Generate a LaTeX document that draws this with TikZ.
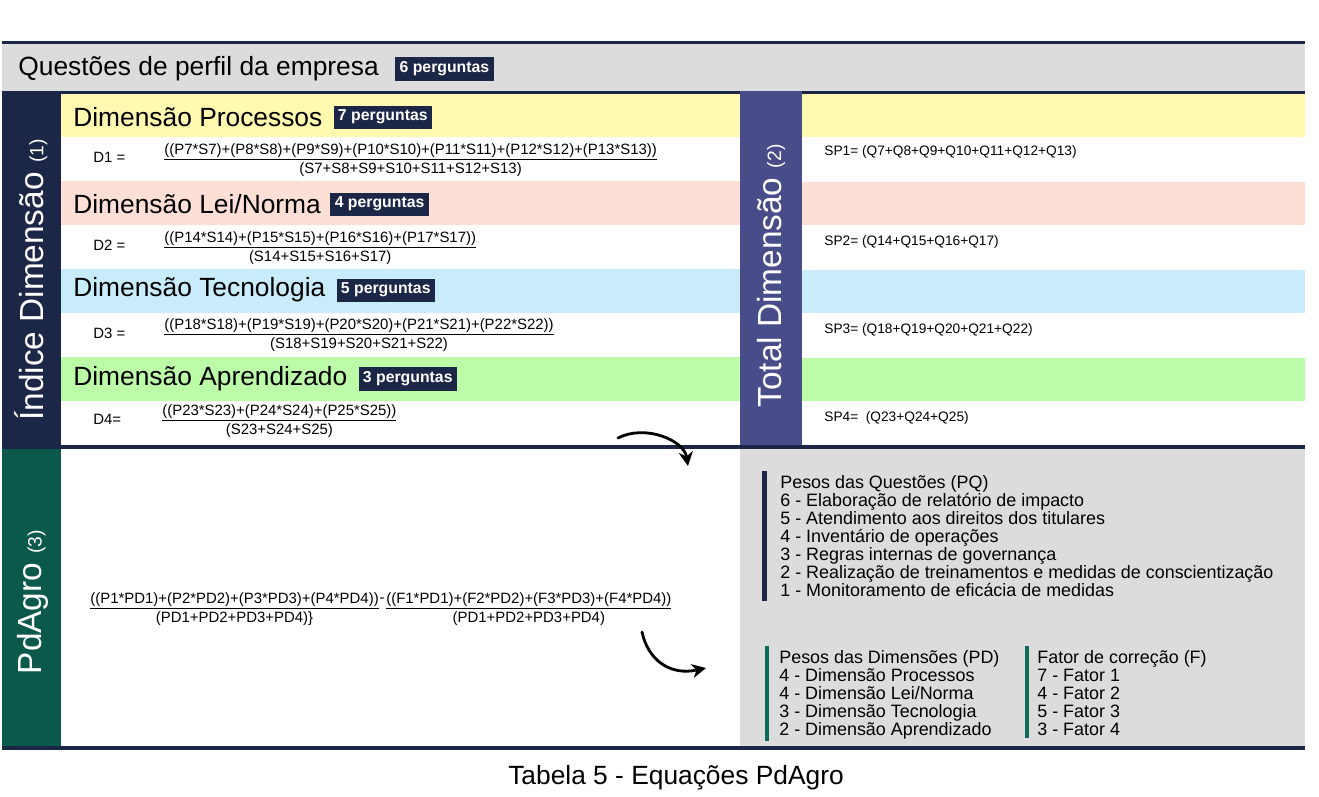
\documentclass[tikz,border=0pt]{standalone}
\usepackage{fontspec}
\setmainfont{Liberation Sans}
\usepackage{xcolor}
\usetikzlibrary{arrows.meta,positioning}
\definecolor{navy}{HTML}{1C2647}
\definecolor{hdrgray}{HTML}{DCDCDC}
\definecolor{dimyellow}{HTML}{FFFAB0}
\definecolor{dimsalmon}{HTML}{FDDFD5}
\definecolor{dimblue}{HTML}{C8ECFA}
\definecolor{dimgreen}{HTML}{BCFCA8}
\definecolor{totalblue}{HTML}{484C88}
\definecolor{pdgreen}{HTML}{0B594A}
\definecolor{legendgreen}{HTML}{0E6B57}

\begin{document}
\begin{tikzpicture}[
    x=0.02cm, y=-0.02cm,
    title/.style={anchor=west, inner sep=0pt, font=\fontsize{15}{18}\selectfont},
    badge/.style={fill=navy, text=white, inner sep=2.5pt, font=\bfseries\fontsize{9}{10}\selectfont},
    dlabel/.style={anchor=west, inner sep=0pt, font=\fontsize{8.5}{10}\selectfont},
    frac/.style={anchor=west, align=center, inner sep=0pt, font=\fontsize{8.5}{9.7}\selectfont},
    sptext/.style={anchor=west, inner sep=0pt, font=\fontsize{7.8}{9}\selectfont},
    sidebar/.style={rotate=90, text=white, inner sep=0pt, font=\fontsize{19}{21}\selectfont},
    legend/.style={anchor=north west, align=left, inner sep=0pt, font=\fontsize{10.2}{10.24}\selectfont},
    curvy/.style={-{Stealth[length=8pt, width=8pt, inset=2.5pt]}, line width=1.6pt, line cap=round}
]
\useasboundingbox (0,0) rectangle (1319,796);

\fill[navy] (2,41) rectangle (1305,44);
\fill[hdrgray] (2,44) rectangle (1305,91);
\foreach \yy/\cc in {93/dimyellow, 181/dimsalmon, 269/dimblue, 357/dimgreen} {
    \fill[\cc] (61,\yy) rectangle (740,\yy+44);
    \fill[\cc] (802,\yy+1) rectangle (1305,\yy+44);
}
\fill[navy] (2,91) rectangle (1305,94);
\fill[navy] (2,91) rectangle (61,447);
\fill[totalblue] (740,91) rectangle (802,445);
\fill[navy] (2,445) rectangle (1305,449);
\fill[pdgreen] (2,449) rectangle (61,750);
\fill[hdrgray] (740,449) rectangle (1305,746);
\fill[navy] (2,746) rectangle (1305,750);

\node[title] (qperfil) at (18,69) {Questões de perfil da empresa};
\node[badge, right=9pt of qperfil] (qbadge) {6 perguntas};

\node[title] (dproc) at (73,117) {Dimensão Processos};
\node[badge, right=6pt of dproc] (procbadge) {7 perguntas};
\node[title] (dlei) at (73,204) {Dimensão Lei/Norma};
\node[badge, right=5pt of dlei] (leibadge) {4 perguntas};
\node[title] (dtec) at (73,290) {Dimensão Tecnologia};
\node[badge, right=6pt of dtec] (tecbadge) {5 perguntas};
\node[title] (dapr) at (73,379) {Dimensão Aprendizado};
\node[badge, right=6pt of dapr] (aprbadge) {3 perguntas};

\node[dlabel] (d1) at (93,157) {D1 =};
\node[frac] (d1f) at (164,160) {\underline{((P7*S7)+(P8*S8)+(P9*S9)+(P10*S10)+(P11*S11)+(P12*S12)+(P13*S13))}\\(S7+S8+S9+S10+S11+S12+S13)};
\node[dlabel] (d2) at (93,245) {D2 =};
\node[frac] (d2f) at (164,248) {\underline{((P14*S14)+(P15*S15)+(P16*S16)+(P17*S17))}\\(S14+S15+S16+S17)};
\node[dlabel] (d3) at (93,333) {D3 =};
\node[frac] (d3f) at (164,335) {\underline{((P18*S18)+(P19*S19)+(P20*S20)+(P21*S21)+(P22*S22))}\\(S18+S19+S20+S21+S22)};
\node[dlabel] (d4) at (93,419) {D4=};
\node[frac] (d4f) at (162,421) {\underline{((P23*S23)+(P24*S24)+(P25*S25))}\\(S23+S24+S25)};

\node[sptext] (sp1) at (824,152) {SP1= (Q7+Q8+Q9+Q10+Q11+Q12+Q13)};
\node[sptext] (sp2) at (824,242) {SP2= (Q14+Q15+Q16+Q17)};
\node[sptext] (sp3) at (824,330) {SP3= (Q18+Q19+Q20+Q21+Q22)};
\node[sptext] (sp4) at (824,418) {SP4=\ \ (Q23+Q24+Q25)};

\node[sidebar] (indice) at (31,280) {Índice Dimensão {\fontsize{11}{12}\selectfont (1)}};
\node[sidebar] (totaldim) at (771,276) {Total Dimensão {\fontsize{11}{12}\selectfont (2)}};
\node[sidebar] (pdagro) at (33,602) {PdAgro {\fontsize{11}{12}\selectfont (3)}};

\node[frac] (pdleft) at (90,609) {\underline{((P1*PD1)+(P2*PD2)+(P3*PD3)+(P4*PD4))}\\(PD1+PD2+PD3+PD4)\}};
\node[dlabel, anchor=center] (pdminus) at (382,600) {-};
\node[frac] (pdright) at (386,609) {\underline{((F1*PD1)+(F2*PD2)+(F3*PD3)+(F4*PD4))}\\(PD1+PD2+PD3+PD4)};

\node[legend] (pq) at (780,475) {Pesos das Questões (PQ)\\6 - Elaboração de relatório de impacto\\5 - Atendimento aos direitos dos titulares\\4 - Inventário de operações\\3 - Regras internas de governança\\2 - Realização de treinamentos e medidas de conscientização\\1 - Monitoramento de eficácia de medidas};
\fill[navy] ([xshift=-0.36cm, yshift=0.08cm]pq.north west) rectangle ([xshift=-0.26cm, yshift=-0.08cm]pq.south west);

\node[legend] (pd) at (779,650) {Pesos das Dimensões (PD)\\4 - Dimensão Processos\\4 - Dimensão Lei/Norma\\3 - Dimensão Tecnologia\\2 - Dimensão Aprendizado};
\fill[legendgreen] ([xshift=-0.28cm, yshift=0.08cm]pd.north west) rectangle ([xshift=-0.2cm, yshift=-0.04cm]pd.south west);
\node[legend] (fc) at (1037,650) {Fator de correção (F)\\7 - Fator 1\\4 - Fator 2\\5 - Fator 3\\3 - Fator 4};
\fill[legendgreen] ([xshift=-0.24cm, yshift=0.08cm]fc.north west) rectangle ([xshift=-0.16cm, yshift=-0.04cm]fc.south west);

\node[title, anchor=center] (caption) at (676,778) {Tabela 5 - Equações PdAgro};

\coordinate (arwa) at (618,438);
\coordinate (arwb) at (688,466);
\draw[curvy] (arwa) .. controls (645,424) and (684,440) .. (arwb);
\coordinate (arwc) at (642,632);
\coordinate (arwd) at (706,668);
\draw[curvy] (arwc) .. controls (648,660) and (670,676) .. (arwd);

\end{tikzpicture}
\end{document}
